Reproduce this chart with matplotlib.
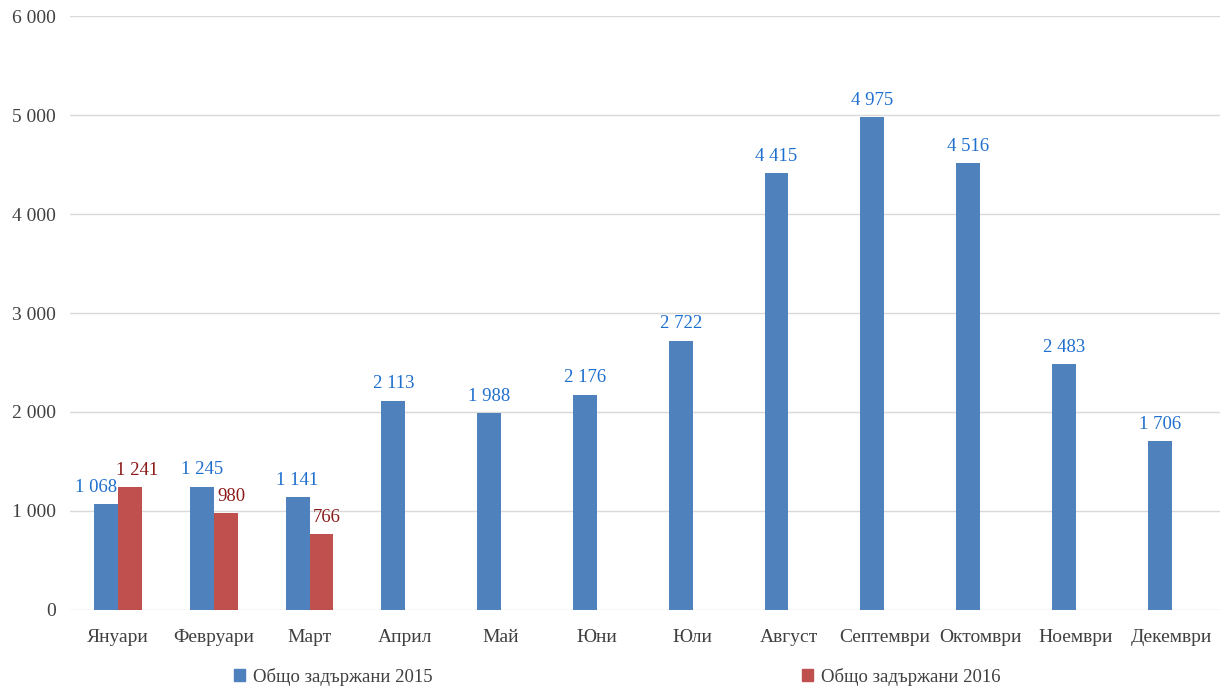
import matplotlib
matplotlib.use("Agg")
import matplotlib.pyplot as plt
import numpy as np
from matplotlib.patches import Patch

months = ["Януари", "Февруари", "Март", "Април", "Май", "Юни", "Юли",
          "Август", "Септември", "Октомври", "Ноември", "Декември"]
s2015 = [1068, 1245, 1141, 2113, 1988, 2176, 2722, 4415, 4975, 4516, 2483, 1706]
s2016 = [1241, 980, 766]
name2015 = "Общо задържани 2015"
name2016 = "Общо задържани 2016"

plt.rcParams['font.family'] = ['Liberation Serif', 'DejaVu Serif']

def fmt(v):
    return f"{int(v):,}".replace(",", " ")

fig = plt.figure(figsize=(12.22, 6.88), dpi=100)
ax = fig.add_axes([0.0573, 0.1134, 0.9407, 0.8633])

x = np.arange(len(months))
w = 0.25
c15 = "#4F81BD"
c16 = "#C0504D"
b1 = ax.bar(x - w/2, s2015, width=w, color=c15, zorder=3)
b2 = ax.bar(x[:len(s2016)] + w/2, s2016, width=w, color=c16, zorder=3)

# small horizontal nudges (points) so neighbouring labels do not collide
nudge15 = {0: -7}
nudge16 = {0: 5, 1: 4, 2: 4}

for i, (rect, v) in enumerate(zip(b1, s2015)):
    ax.annotate(fmt(v), (rect.get_x() + rect.get_width()/2, v),
                xytext=(nudge15.get(i, 0), 6),
                textcoords="offset points", ha="center", va="bottom",
                fontsize=13.5, color="#1F6FCF")
for i, (rect, v) in enumerate(zip(b2, s2016)):
    ax.annotate(fmt(v), (rect.get_x() + rect.get_width()/2, v),
                xytext=(nudge16.get(i, 0), 6),
                textcoords="offset points", ha="center", va="bottom",
                fontsize=13.5, color="#8B1A1A")

ax.set_xlim(-0.5, len(months) - 0.5)
ax.set_ylim(0, 6000)
ax.set_yticks(np.arange(0, 6001, 1000))
ax.set_yticklabels([fmt(v) for v in np.arange(0, 6001, 1000)])
ax.set_xticks(x)
ax.set_xticklabels(months)
ax.tick_params(axis="both", length=0, labelsize=14, colors="#404040")
ax.tick_params(axis="y", pad=10)
ax.tick_params(axis="x", pad=14)
ax.grid(axis="y", color="#D9D9D9", linewidth=1, zorder=0)
for s in ax.spines.values():
    s.set_visible(False)

handles = [Patch(color=c15), Patch(color=c16)]
leg = fig.legend(handles, [name2015, name2016], ncol=2, loc="center",
                 bbox_to_anchor=(0.505, 0.016), frameon=False, fontsize=13.5,
                 handlelength=0.6, handleheight=0.6, handletextpad=0.4,
                 columnspacing=19.7, labelcolor="#404040")

fig.savefig("out.png", dpi=100)
